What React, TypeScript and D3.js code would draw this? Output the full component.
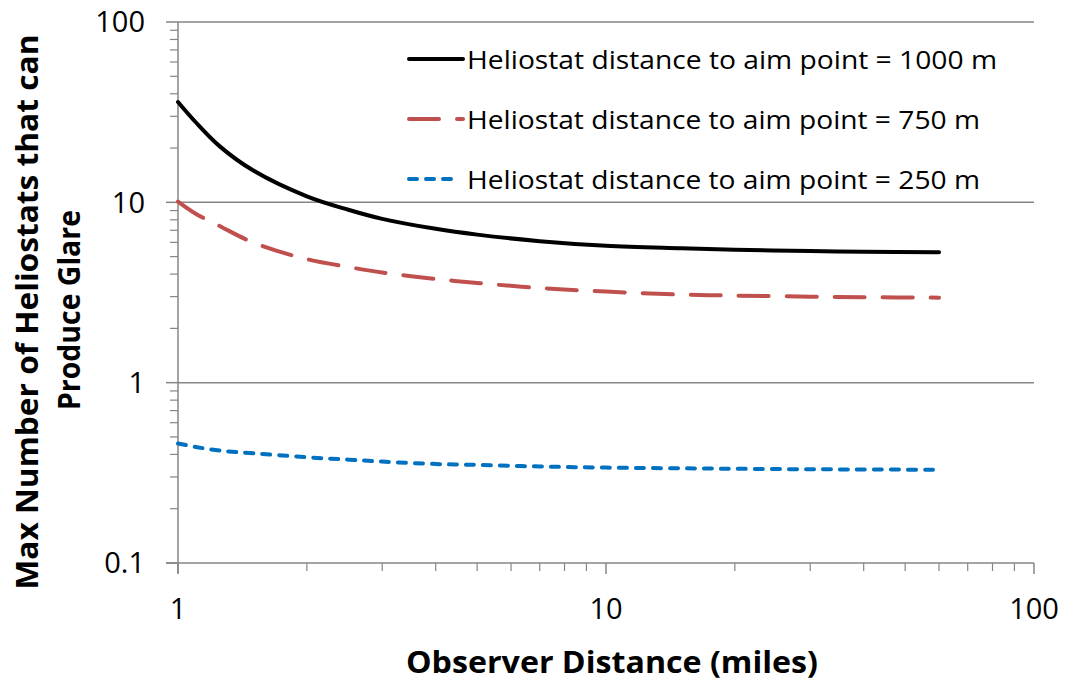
import * as d3 from "d3";

// observer distance (miles)
const distances = [1, 1.1, 1.25, 1.5, 2, 2.5, 3, 4, 5, 7, 10, 15, 20, 30, 40, 60];

// max number of heliostats that can produce glare, per aim-point distance
const glare1000 = [36, 27.8, 20.5, 15.0, 10.8, 9.1, 8.1, 7.13, 6.62, 6.09, 5.74, 5.56, 5.46, 5.37, 5.32, 5.28];
const glare750 = [10.1, 8.65, 7.4, 5.98, 4.84, 4.38, 4.08, 3.76, 3.57, 3.35, 3.2, 3.08, 3.04, 3.0, 2.98, 2.96];
const glare250 = [0.46, 0.44, 0.42, 0.406, 0.386, 0.374, 0.365, 0.354, 0.35, 0.343, 0.338, 0.335, 0.333, 0.331, 0.33, 0.329];

const xTickValues = [1, 10, 100];
const yTickValues = [0.1, 1, 10, 100];

const seriesNames = [
  "Heliostat distance to aim point = 1000 m",
  "Heliostat distance to aim point = 750 m",
  "Heliostat distance to aim point = 250 m",
];

const series = [
  { name: seriesNames[0], values: glare1000, color: "#000000", dash: "none", textLen: 530 },
  { name: seriesNames[1], values: glare750, color: "#C0504D", dash: "30,18", textLen: 513 },
  { name: seriesNames[2], values: glare250, color: "#0070C0", dash: "8,9", textLen: 513 },
];

const W = 1068;
const H = 687;
const margin = { top: 22, right: 34, bottom: 124, left: 178 };
const gridColor = "#868686";
const font = "'Open Sans', sans-serif";

function minorTicks(lo: number, hi: number) {
  const out: number[] = [];
  for (let dec = lo; dec < hi; dec *= 10) {
    for (let k = 2; k <= 9; k++) out.push(dec * k);
  }
  return out;
}

export default function App() {
  const x = d3.scaleLog().domain([1, 100]).range([margin.left, W - margin.right]);
  const y = d3.scaleLog().domain([0.1, 100]).range([H - margin.bottom, margin.top]);

  const line = d3
    .line<number>()
    .x((_, i) => x(distances[i]))
    .y((v) => y(v))
    .curve(d3.curveCatmullRom.alpha(0.5));

  const x0 = x(1);
  const y0 = y(0.1);
  const xMinor = minorTicks(1, 100);
  const yMinor = minorTicks(0.1, 100);

  return (
    <div style={{ position: "absolute", left: 0, top: 0 }}>
      <svg width={W} height={H} style={{ display: "block", background: "#fff" }}>
        {/* gridlines */}
        {yTickValues.slice(1).map((t) => (
          <line key={"g" + t} x1={x0} x2={x(100)} y1={y(t)} y2={y(t)} stroke={gridColor} strokeWidth={1.5} />
        ))}

        {/* y axis */}
        <line x1={x0} x2={x0} y1={y(100)} y2={y0 + 10} stroke={gridColor} strokeWidth={1.5} />
        {yMinor.map((t) => (
          <line key={"ym" + t} x1={x0 - 8} x2={x0} y1={y(t)} y2={y(t)} stroke={gridColor} strokeWidth={1.2} />
        ))}
        {yTickValues.map((t) => (
          <g key={"yt" + t}>
            <line x1={x0 - 12} x2={x0} y1={y(t)} y2={y(t)} stroke={gridColor} strokeWidth={1.5} />
            <text x={145} y={y(t)} dy="0.36em" textAnchor="end" fontFamily={font} fontSize={29} fill="#000">
              {t}
            </text>
          </g>
        ))}

        {/* x axis */}
        <line x1={x0 - 12} x2={x(100)} y1={y0} y2={y0} stroke={gridColor} strokeWidth={1.5} />
        {xMinor.map((t) => (
          <line key={"xm" + t} x1={x(t)} x2={x(t)} y1={y0} y2={y0 + 8} stroke={gridColor} strokeWidth={1.2} />
        ))}
        {xTickValues.map((t) => (
          <g key={"xt" + t}>
            <line x1={x(t)} x2={x(t)} y1={y0} y2={y0 + 11} stroke={gridColor} strokeWidth={1.5} />
            <text x={x(t)} y={619} textAnchor="middle" fontFamily={font} fontSize={29} fill="#000">
              {t}
            </text>
          </g>
        ))}

        {/* series */}
        {series.map((s) => (
          <path
            key={s.name}
            d={line(s.values) || ""}
            fill="none"
            stroke={s.color}
            strokeWidth={4}
            strokeDasharray={s.dash}
            strokeLinecap="round"
          />
        ))}

        {/* legend */}
        {series.map((s, i) => {
          const ly = 59 + i * 60;
          return (
            <g key={"lg" + i}>
              <line
                x1={409}
                x2={i === 2 ? 453 : 463}
                y1={ly}
                y2={ly}
                stroke={s.color}
                strokeWidth={4}
                strokeDasharray={s.dash}
                strokeLinecap="round"
              />
              <text
                x={467}
                y={ly + 10}
                fontFamily={font}
                fontSize={26}
                fill="#000"
                textLength={s.textLen}
                lengthAdjust="spacingAndGlyphs"
              >
                {s.name}
              </text>
            </g>
          );
        })}

        {/* axis titles */}
        <text
          x={612}
          y={673}
          textAnchor="middle"
          fontFamily={font}
          fontWeight="bold"
          fontSize={30}
          fill="#000"
          textLength={412}
          lengthAdjust="spacingAndGlyphs"
        >
          Observer Distance (miles)
        </text>
        <text
          transform="translate(38,312) rotate(-90)"
          textAnchor="middle"
          fontFamily={font}
          fontWeight="bold"
          fontSize={30}
          fill="#000"
          textLength={555}
          lengthAdjust="spacingAndGlyphs"
        >
          Max Number of Heliostats that can
        </text>
        <text
          transform="translate(80,310) rotate(-90)"
          textAnchor="middle"
          fontFamily={font}
          fontWeight="bold"
          fontSize={30}
          fill="#000"
          textLength={200}
          lengthAdjust="spacingAndGlyphs"
        >
          Produce Glare
        </text>
      </svg>
    </div>
  );
}
